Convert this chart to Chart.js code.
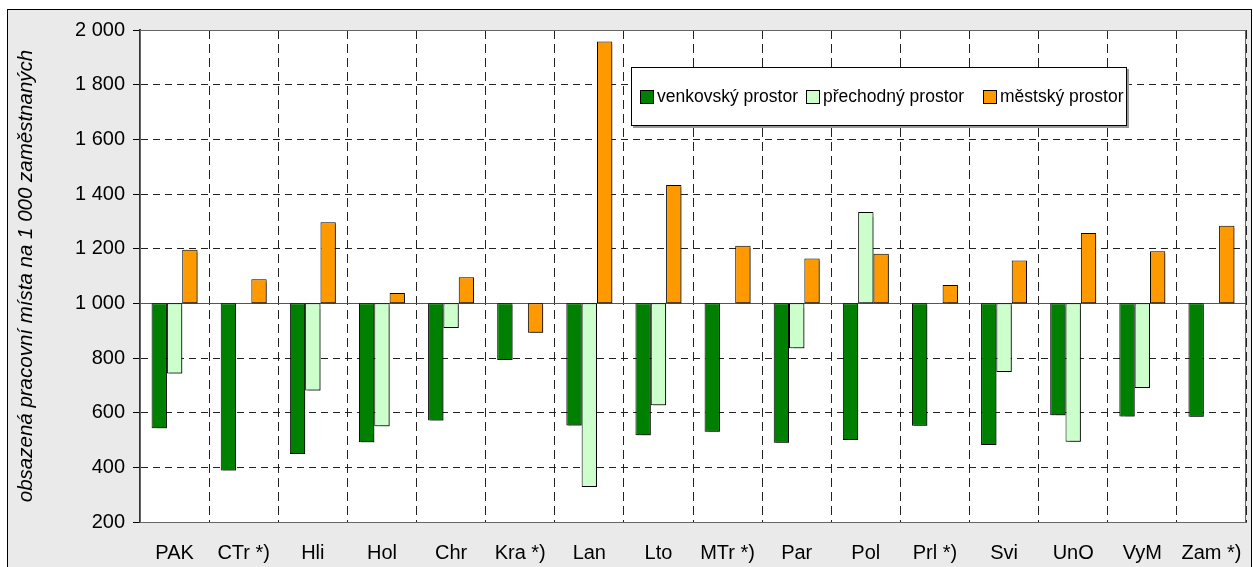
<!DOCTYPE html>
<html>
<head>
<meta charset="utf-8">
<script src="https://cdn.jsdelivr.net/npm/chart.js@4"></script>
<style>
  body { margin: 0; background: #fff; }
  #box { position: absolute; left: 7px; top: 9px; width: 1243px; height: 570px;
         border: 1px solid #000; background: #eaeaea; }
  #graph { position: absolute; left: 0; top: 0; }
  #legend { position: absolute; left: 623px; top: 57px; width: 494px; height: 57px;
            border: 1px solid #000; background: #fff; box-shadow: 2px 2px 0 #999;
            font: 17.5px "Liberation Sans", Arial, sans-serif; display: flex; align-items: center; }
  #legend span.item { position: absolute; display: flex; align-items: center; white-space: nowrap; }
  #legend span.sw { display: inline-block; width: 12px; height: 12px; border: 1px solid #000; margin-right: 3px; }
</style>
</head>
<body>
<div id="box">
  <canvas id="graph" width="1243" height="560"></canvas>
  <div id="legend"></div>
</div>
<script>
const categories = ['PAK', 'CTr *)', 'Hli', 'Hol', 'Chr', 'Kra *)', 'Lan', 'Lto', 'MTr *)', 'Par', 'Pol', 'Prl *)', 'Svi', 'UnO', 'VyM', 'Zam *)'];
const venkovsky = [543, 388, 449, 492, 571, 793, 553, 517, 530, 490, 500, 552, 482, 591, 586, 585];
const prechodny = [743, null, 681, 550, 910, null, 328, 627, null, 836, 1334, null, 749, 494, 690, null];
const mestsky = [1196, 1088, 1297, 1038, 1095, 892, 1958, 1433, 1211, 1164, 1181, 1067, 1157, 1257, 1191, 1284];
const yTicks = [200, 400, 600, 800, 1000, 1200, 1400, 1600, 1800, 2000];
const base = 1000;

const font = "'Liberation Sans', Arial, sans-serif";

// bars start at 1000, not at zero
const floating = arr => arr.map(v => v == null ? null : [base, v]);

const fmt = v => v >= 1000 ? Math.floor(v / 1000) + ' ' + String(v % 1000).padStart(3, '0') : String(v);

const plotFrame = {
    id: 'plotFrame',
    beforeDraw(chart) {
        const { ctx, chartArea: a } = chart;
        ctx.save();
        ctx.fillStyle = '#fff';
        ctx.fillRect(a.left, a.top, a.right - a.left, a.bottom - a.top);
        ctx.restore();
    },
    beforeDatasetsDraw(chart) {
        const { ctx, chartArea: a, scales } = chart;
        ctx.save();
        ctx.strokeStyle = '#666';
        ctx.lineWidth = 1;
        ctx.strokeRect(a.left + 0.5, a.top + 0.5, a.right - a.left - 1, a.bottom - a.top);
        const y = Math.round(scales.y.getPixelForValue(base)) + 0.5;
        ctx.strokeStyle = '#555';
        ctx.beginPath();
        ctx.moveTo(a.left, y);
        ctx.lineTo(a.right, y);
        ctx.stroke();
        ctx.restore();
        // excel-like drop shadow under the bars
        ctx.save();
        ctx.shadowColor = 'rgba(0,0,0,0.45)';
        ctx.shadowOffsetX = 2;
        ctx.shadowOffsetY = 2;
        ctx.shadowBlur = 1;
    },
    afterDatasetsDraw(chart) {
        chart.ctx.restore();
    }
};

const config = {
    type: 'bar',
    data: {
        labels: categories,
        datasets: [
            { label: 'venkovský prostor', data: floating(venkovsky), backgroundColor: '#008000' },
            { label: 'přechodný prostor', data: floating(prechodny), backgroundColor: '#ccffcc' },
            { label: 'městský prostor', data: floating(mestsky), backgroundColor: '#ff9900' }
        ]
    },
    options: {
        responsive: false,
        animation: false,
        datasets: {
            bar: {
                borderColor: '#000',
                borderWidth: 1,
                borderSkipped: false,
                barPercentage: 1,
                categoryPercentage: 0.665
            }
        },
        layout: { padding: { top: 19, right: 5, bottom: 0, left: 0 } },
        scales: {
            y: {
                min: 200,
                max: 2000,
                afterBuildTicks: s => { s.ticks = yTicks.map(v => ({ value: v })); },
                afterFit: s => { s.width = 132; },
                ticks: {
                    color: '#000',
                    font: { family: font, size: 20 },
                    padding: 8,
                    callback: v => fmt(v)
                },
                grid: {
                    color: '#222',
                    lineWidth: 1,
                    tickLength: 7,
                    tickColor: '#000',
                    tickBorderDash: []
                },
                border: { display: true, color: '#333', width: 2, dash: [7, 5] },
                title: {
                    display: true,
                    text: 'obsazená pracovní místa na 1 000 zaměstnaných',
                    color: '#000',
                    font: { family: font, size: 20.5, style: 'italic' },
                    padding: { top: 6, bottom: 0 }
                }
            },
            x: {
                afterFit: s => { s.height = 48; s.paddingLeft = 0; s.paddingRight = 0; },
                ticks: {
                    color: '#000',
                    font: { family: font, size: 20 },
                    padding: 19,
                    maxRotation: 0,
                    autoSkip: false
                },
                grid: {
                    color: '#222',
                    lineWidth: 1,
                    drawTicks: false,
                    offset: true
                },
                border: { display: true, color: '#666', width: 1, dash: [9, 5] }
            }
        },
        plugins: {
            legend: { display: false },
            tooltip: { enabled: false },
            title: { display: false }
        }
    },
    plugins: [plotFrame]
};

const myChart = new Chart(document.getElementById('graph'), config);

// legend box inside the plot, built from the datasets
const legend = document.getElementById('legend');
const itemLeft = [8, 174, 351];
myChart.data.datasets.forEach((ds, i) => {
    const item = document.createElement('span');
    item.className = 'item';
    item.style.left = itemLeft[i] + 'px';
    const sw = document.createElement('span');
    sw.className = 'sw';
    sw.style.background = ds.backgroundColor;
    item.appendChild(sw);
    item.appendChild(document.createTextNode(ds.label));
    legend.appendChild(item);
});
</script>
</body>
</html>
